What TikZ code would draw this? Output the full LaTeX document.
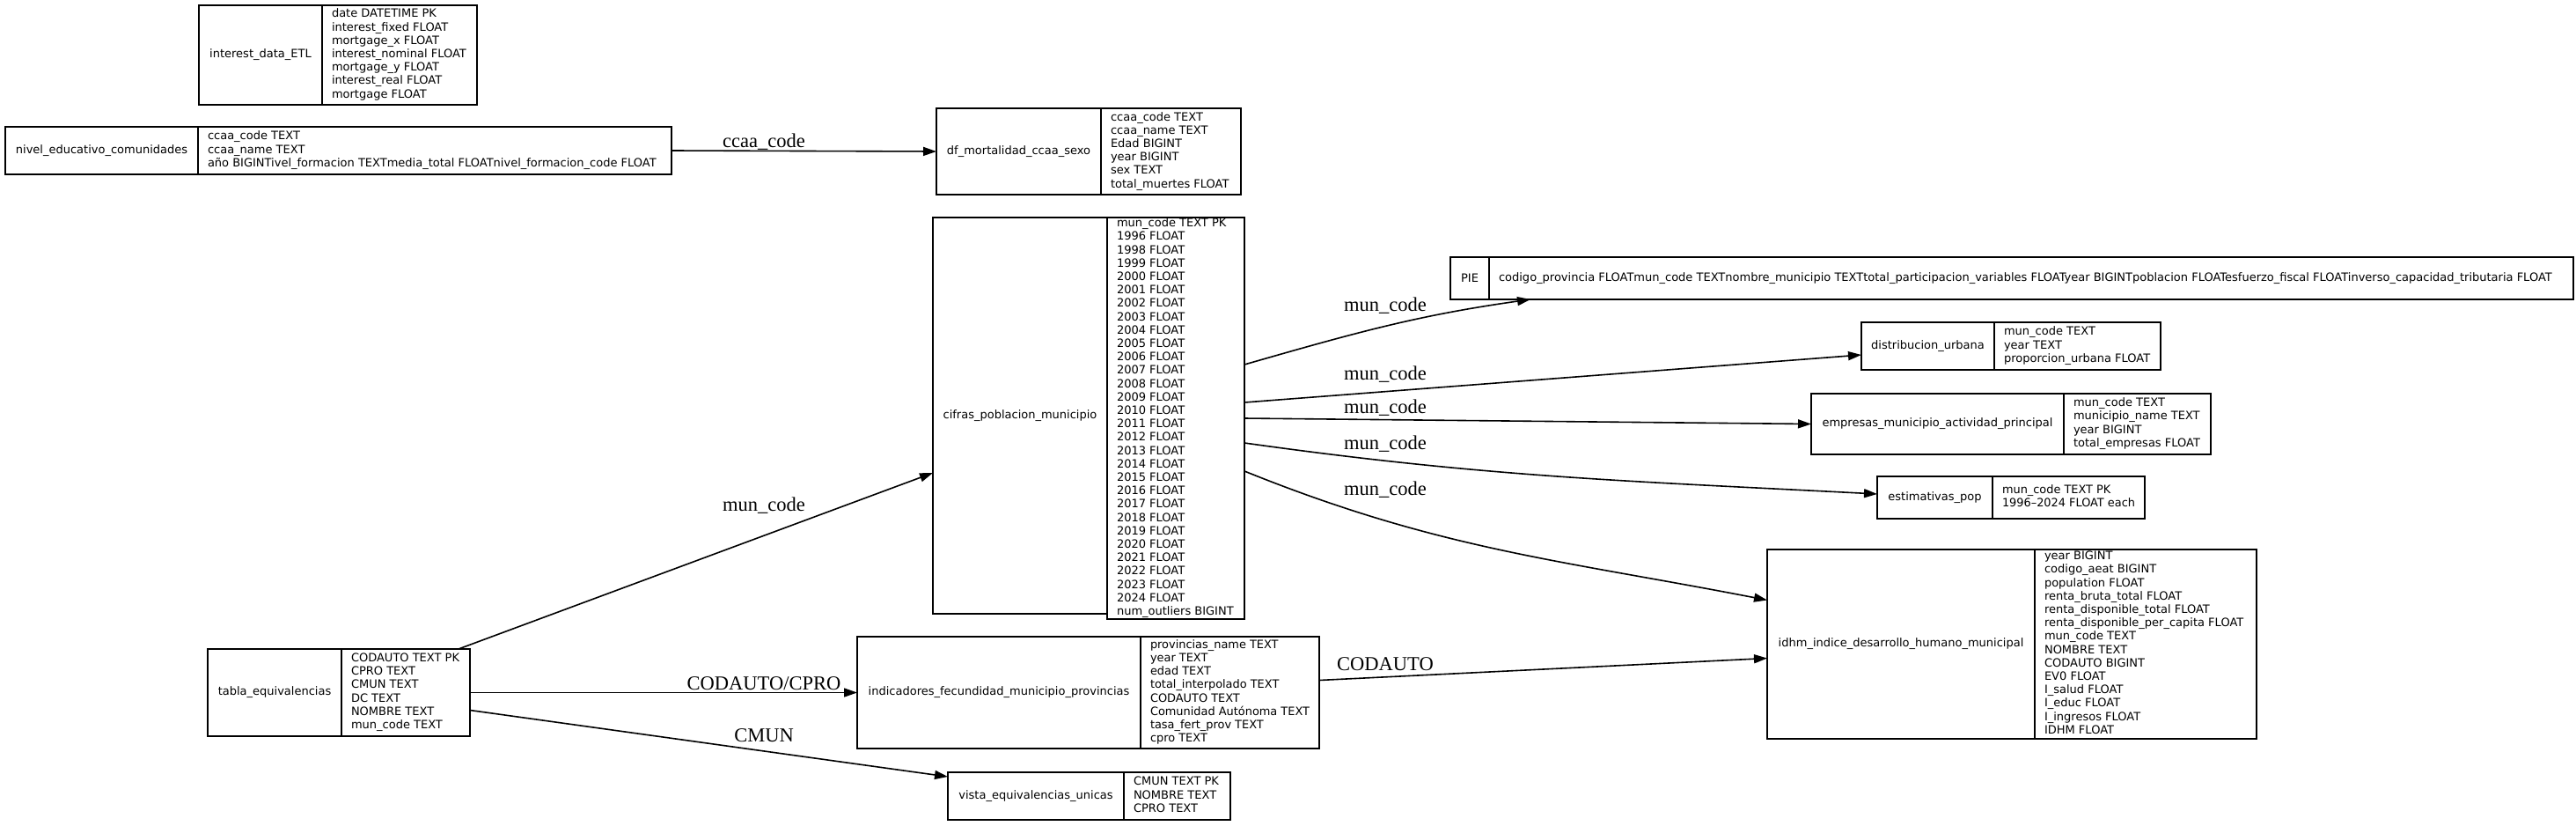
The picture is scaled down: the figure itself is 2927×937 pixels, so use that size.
\documentclass[tikz,border=0pt]{standalone}
\usepackage{fontspec}
\usepackage{graphicx}
\usepackage{tikz}
\usetikzlibrary{positioning,arrows.meta,calc}
\newfontfamily\tabfamily{DejaVu Sans}
\newfontfamily\labfamily{Liberation Serif}
\definecolor{ink}{HTML}{000000}
\newcommand{\tbfont}{\tabfamily\fontsize{13}{15.2}\selectfont}
\newcommand{\lbfont}{\labfamily\fontsize{22.5}{27}\selectfont}
\newsavebox{\fldbox}
% #1 = width of the column text, #2 = rows; squeezed when too wide
\newcommand{\fieldrows}[2]{%
  \sbox{\fldbox}{\begin{tabular}{@{}l@{}}#2\end{tabular}}%
  \ifdim\wd\fldbox>#1pt\resizebox*{#1pt}{\totalheight}{\usebox{\fldbox}}%
  \else\makebox[#1pt][l]{\usebox{\fldbox}}\fi}

\begin{document}
\begin{tikzpicture}[x=1pt,y=1pt,
    tname/.style={draw=ink,line width=1.6pt,shape=rectangle,inner sep=0pt,outer sep=0pt,
                  anchor=north west,font=\tbfont,text=ink},
    tfield/.style={tname,inner xsep=11pt},
    flow/.style={-{Triangle[length=15pt,width=10pt]},line width=1.6pt,draw=ink},
    elab/.style={anchor=base,font=\lbfont,text=ink,inner sep=0pt}]

\useasboundingbox (0,0) rectangle (2927,-937);

% ======================= left column ==================================================
\node[tname,minimum width=140,minimum height=113] (interest) at (226,-6) {interest\_data\_ETL};
\node[tfield,minimum height=113] (interestF) at (interest.north east) {\fieldrows{154}{%
date DATETIME PK\\
interest\_fixed FLOAT\\
mortgage\_x FLOAT\\
interest\_nominal FLOAT\\
mortgage\_y FLOAT\\
interest\_real FLOAT\\
mortgage FLOAT}};

\node[tname,minimum width=219,minimum height=54] (nivel) at (6,-144) {nivel\_educativo\_comunidades};
\node[tfield,minimum height=54] (nivelF) at (nivel.north east) {\fieldrows{516}{%
ccaa\_code TEXT\\
ccaa\_name TEXT\\
año BIGINTivel\_formacion TEXTmedia\_total FLOATnivel\_formacion\_code FLOAT}};

\node[tname,minimum width=152,minimum height=99] (tabla) at (236,-737) {tabla\_equivalencias};
\node[tfield,minimum height=99] (tablaF) at (tabla.north east) {\fieldrows{124}{%
CODAUTO TEXT PK\\
CPRO TEXT\\
CMUN TEXT\\
DC TEXT\\
NOMBRE TEXT\\
mun\_code TEXT}};

% ======================= middle column ================================================
\node[tname,minimum width=187,minimum height=98] (dfmort) at (1064,-123) {df\_mortalidad\_ccaa\_sexo};
\node[tfield,minimum height=98] (dfmortF) at (dfmort.north east) {\fieldrows{137}{%
ccaa\_code TEXT\\
ccaa\_name TEXT\\
Edad BIGINT\\
year BIGINT\\
sex TEXT\\
total\_muertes FLOAT}};

\node[tname,minimum width=198,minimum height=450] (cifras) at (1060,-247) {cifras\_poblacion\_municipio};
\node[tfield,minimum height=450] (cifrasF) at (cifras.north east) {\fieldrows{134}{%
mun\_code TEXT PK\\
1996 FLOAT\\ 1998 FLOAT\\ 1999 FLOAT\\ 2000 FLOAT\\ 2001 FLOAT\\ 2002 FLOAT\\
2003 FLOAT\\ 2004 FLOAT\\ 2005 FLOAT\\ 2006 FLOAT\\ 2007 FLOAT\\ 2008 FLOAT\\
2009 FLOAT\\ 2010 FLOAT\\ 2011 FLOAT\\ 2012 FLOAT\\ 2013 FLOAT\\ 2014 FLOAT\\
2015 FLOAT\\ 2016 FLOAT\\ 2017 FLOAT\\ 2018 FLOAT\\ 2019 FLOAT\\ 2020 FLOAT\\
2021 FLOAT\\ 2022 FLOAT\\ 2023 FLOAT\\ 2024 FLOAT\\
num\_outliers BIGINT}};

\node[tname,minimum width=322,minimum height=127] (indic) at (974,-723) {indicadores\_fecundidad\_municipio\_provincias};
\node[tfield,minimum height=127] (indicF) at (indic.north east) {\fieldrows{181}{%
provincias\_name TEXT\\
year TEXT\\
edad TEXT\\
total\_interpolado TEXT\\
CODAUTO TEXT\\
Comunidad Autónoma TEXT\\
tasa\_fert\_prov TEXT\\
cpro TEXT}};

\node[tname,minimum width=200,minimum height=54] (vista) at (1077,-877) {vista\_equivalencias\_unicas};
\node[tfield,minimum height=54] (vistaF) at (vista.north east) {\fieldrows{99}{%
CMUN TEXT PK\\
NOMBRE TEXT\\
CPRO TEXT}};

% ======================= right column =================================================
\node[tname,minimum width=44,minimum height=48] (pie) at (1648,-292) {PIE};
\node[tfield,minimum height=48] (pieF) at (pie.north east) {\fieldrows{1210}{%
codigo\_provincia FLOATmun\_code TEXTnombre\_municipio TEXTtotal\_participacion\_variables FLOATyear BIGINTpoblacion FLOATesfuerzo\_fiscal FLOATinverso\_capacidad\_tributaria FLOAT}};

\node[tname,minimum width=151,minimum height=54] (distrib) at (2115,-366) {distribucion\_urbana};
\node[tfield,minimum height=54] (distribF) at (distrib.north east) {\fieldrows{167}{%
mun\_code TEXT\\
year TEXT\\
proporcion\_urbana FLOAT}};

\node[tname,minimum width=287,minimum height=69] (empresas) at (2058,-447) {empresas\_municipio\_actividad\_principal};
\node[tfield,minimum height=69] (empresasF) at (empresas.north east) {\fieldrows{145}{%
mun\_code TEXT\\
municipio\_name TEXT\\
year BIGINT\\
total\_empresas FLOAT}};

\node[tname,minimum width=131,minimum height=48] (estim) at (2133,-541) {estimativas\_pop};
\node[tfield,minimum height=48] (estimF) at (estim.north east) {\fieldrows{151}{%
mun\_code TEXT PK\\
1996–2024 FLOAT each}};

\node[tname,minimum width=304,minimum height=215] (idhm) at (2008,-624) {idhm\_indice\_desarrollo\_humano\_municipal};
\node[tfield,minimum height=215] (idhmF) at (idhm.north east) {\fieldrows{230}{%
year BIGINT\\
codigo\_aeat BIGINT\\
population FLOAT\\
renta\_bruta\_total FLOAT\\
renta\_disponible\_total FLOAT\\
renta\_disponible\_per\_capita FLOAT\\
mun\_code TEXT\\
NOMBRE TEXT\\
CODAUTO BIGINT\\
EV0 FLOAT\\
I\_salud FLOAT\\
I\_educ FLOAT\\
I\_ingresos FLOAT\\
IDHM FLOAT}};

% ======================= relations ====================================================
\draw[flow] (nivelF.east) -- (dfmort.west);
\node[elab] at (868,-167) {ccaa\_code};

\draw[flow] ($(tablaF.north east)+(-13,0)$) -- ($(cifras.south west)+(0,160)$);
\node[elab] at (868,-580) {mun\_code};
\draw[flow] (tablaF.east) -- (indic.west);
\node[elab] at (868,-783) {CODAUTO/CPRO};
\draw[flow] ($(tablaF.east)+(0,-20)$) -- ($(vista.north west)+(0,-5)$);
\node[elab] at (868,-842) {CMUN};

\draw[flow] ($(cifrasF.east)+(0,61)$) to[out=16,in=188] ($(pieF.south west)+(47,0)$);
\node[elab] at (1574,-353) {mun\_code};
\draw[flow] ($(cifrasF.east)+(0,18)$) -- ($(distrib.west)+(0,-10)$);
\node[elab] at (1574,-431) {mun\_code};
\draw[flow] (cifrasF.east) -- (empresas.west);
\node[elab] at (1574,-469) {mun\_code};
\draw[flow] ($(cifrasF.east)+(0,-28)$) to[out=-8,in=177] ($(estim.west)+(0,4)$);
\node[elab] at (1574,-510) {mun\_code};
\draw[flow] ($(cifrasF.east)+(0,-60)$) to[out=-22,in=169] ($(idhm.west)+(0,50)$);
\node[elab] at (1574,-562) {mun\_code};

\draw[flow] ($(indicF.east)+(0,14)$) -- ($(idhm.west)+(0,-16)$);
\node[elab] at (1574,-761) {CODAUTO};

\end{tikzpicture}
\end{document}
